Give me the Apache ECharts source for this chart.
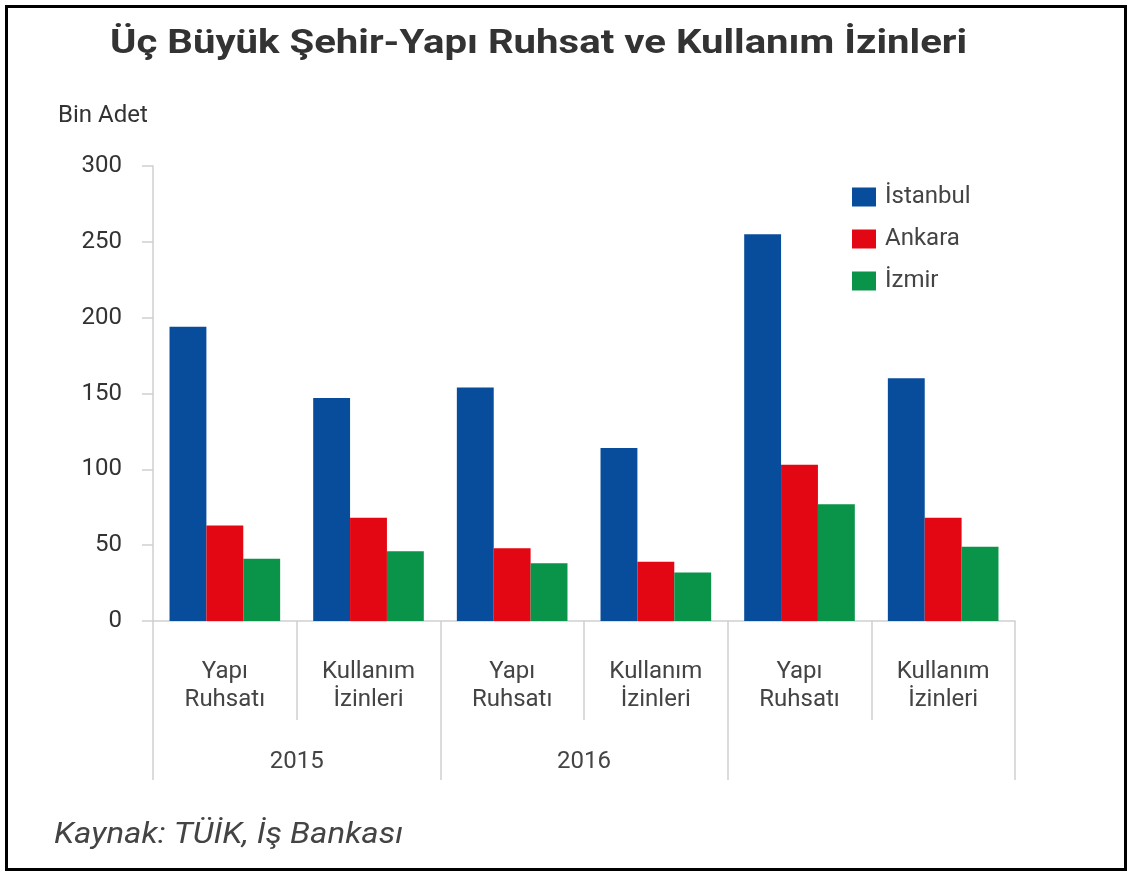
<!DOCTYPE html>
<html>
<head>
<meta charset="utf-8">
<script src="https://cdn.jsdelivr.net/npm/echarts@6/dist/echarts.min.js"></script>
<style>
  html, body { margin: 0; padding: 0; background: #fff; }
  #chart { width: 1131px; height: 875px; }
  .frame {
    position: absolute; left: 5px; top: 5px;
    width: 1116px; height: 860px;
    border: 3px solid #000; pointer-events: none;
  }
</style>
</head>
<body>
<div id="chart"></div>
<div class="frame"></div>
<script>
// kategori etiketleri
const categories = ['Yapı\nRuhsatı', 'Kullanım\nİzinleri', 'Yapı\nRuhsatı', 'Kullanım\nİzinleri', 'Yapı\nRuhsatı', 'Kullanım\nİzinleri']
const years = ['2015', '2016', '']

// bin adet
const istanbul = [194, 147, 154, 114, 255, 160]
const ankara   = [63, 68, 48, 39, 103, 68]
const izmir    = [41, 46, 38, 32, 77, 49]

const yTicks = [0, 50, 100, 150, 200, 250, 300]

const FONT = 'Roboto, "Noto Sans", sans-serif'
const AXIS_GRAY = '#cfcfcf'

const chart = echarts.init(document.getElementById('chart'))

chart.setOption({
  animation: false,
  textStyle: { fontFamily: FONT },
  legend: {
    orient: 'vertical',
    left: 847, top: 180,
    itemWidth: 24, itemHeight: 19, itemGap: 18,
    icon: 'rect',
    textStyle: { fontSize: 24, color: '#444', padding: [0, 0, 0, 4] },
    data: ['İstanbul', 'Ankara', 'İzmir'],
  },
  graphic: [
    // başlık yatayda biraz geniş yazılmış
    { type: 'text', x: 110, y: 44, scaleX: 1.18,
      style: { text: 'Üç Büyük Şehir-Yapı Ruhsat ve Kullanım İzinleri', fontSize: 34, fontWeight: 'bold',
               fill: '#333', fontFamily: FONT, verticalAlign: 'middle' } },
    { type: 'text', x: 58, y: 116,
      style: { text: 'Bin Adet', fontSize: 24, fill: '#333', fontFamily: FONT, verticalAlign: 'middle' } },
    { type: 'text', x: 54, y: 835, scaleX: 1.1,
      style: { text: 'Kaynak: TÜİK, İş Bankası', fontSize: 30, fontStyle: 'italic', fill: '#444',
               fontFamily: FONT, verticalAlign: 'middle' } },
  ],
  grid: { left: 153, right: 116, top: 166, bottom: 254 },
  xAxis: [
    {
      type: 'category',
      data: categories,
      position: 'bottom',
      axisLine: { lineStyle: { color: AXIS_GRAY, width: 1.5 } },
      axisTick: { show: true, length: 99, lineStyle: { color: AXIS_GRAY, width: 1.5 } },
      axisLabel: { margin: 37, fontSize: 24, lineHeight: 28, color: '#444', interval: 0 },
    },
    {
      type: 'category',
      data: years,
      position: 'bottom',
      axisLine: { show: false },
      axisTick: { show: true, length: 159, lineStyle: { color: AXIS_GRAY, width: 1.5 } },
      axisLabel: { margin: 129, fontSize: 24, color: '#444', interval: 0 },
    },
  ],
  yAxis: {
    type: 'value',
    min: yTicks[0], max: yTicks[yTicks.length - 1], interval: 50,
    axisLine: { show: true, lineStyle: { color: AXIS_GRAY, width: 1.5 } },
    axisTick: { show: true, length: 11, lineStyle: { color: AXIS_GRAY, width: 1.5 } },
    axisLabel: { margin: 31, fontSize: 24, color: '#333' },
    splitLine: { show: false },
  },
  series: [
    { name: 'İstanbul', type: 'bar', data: istanbul, barGap: 0, barCategoryGap: '23%',
      itemStyle: { color: '#084d9c' } },
    { name: 'Ankara', type: 'bar', data: ankara, barGap: 0, barCategoryGap: '23%',
      itemStyle: { color: '#e30613' } },
    { name: 'İzmir', type: 'bar', data: izmir, barGap: 0, barCategoryGap: '23%',
      itemStyle: { color: '#0a9449' } },
  ],
})
</script>
</body>
</html>
